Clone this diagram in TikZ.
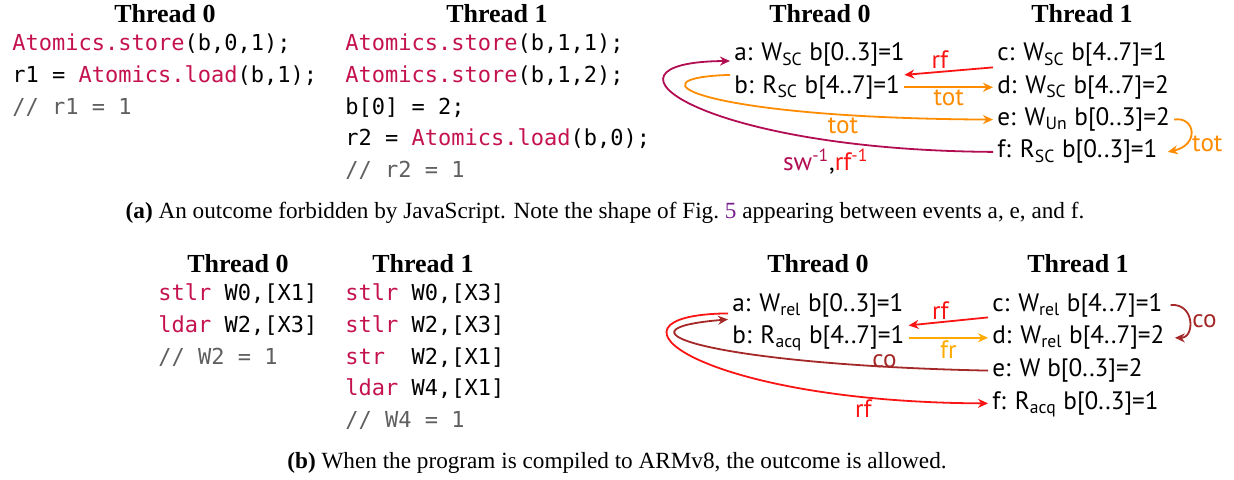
\documentclass[tikz,border=0pt]{standalone}
\usepackage{fontspec}
\setmainfont{Liberation Serif}
\newfontfamily\codefont{DejaVu Sans Mono}
\newfontfamily\evfont{PT Sans}
\usetikzlibrary{arrows.meta,arrows}
\usetikzlibrary{positioning}
\usetikzlibrary{calc}

\definecolor{kwred}{RGB}{196,18,80}
\definecolor{cmgray}{RGB}{95,95,95}
\definecolor{rfred}{RGB}{250,20,20}
\definecolor{swpurple}{RGB}{178,12,82}
\definecolor{totorange}{RGB}{255,140,0}
\definecolor{frorange}{RGB}{255,170,0}
\definecolor{cobrown}{RGB}{165,40,40}
\definecolor{figpurple}{RGB}{120,30,140}

\newcommand{\codekw}[1]{\textcolor{kwred}{#1}}
\newcommand{\codecm}[1]{\textcolor{cmgray}{#1}}
\newcommand{\evsub}[1]{\textsubscript{#1}}
\newcommand{\evsup}[1]{\textsuperscript{#1}}

\begin{document}
\begin{tikzpicture}[x=0.5pt,y=-0.5pt]
\tikzstyle{head node}=[font=\fontsize{13}{15}\selectfont\bfseries,inner sep=0]
\tikzstyle{code node}=[anchor=west,font=\fontsize{11}{13}\codefont,inner sep=0,text height=8pt,text depth=2.5pt]
\tikzstyle{ev node}=[anchor=west,font=\fontsize{12.6}{14}\evfont,inner xsep=2pt,inner ysep=0,text height=9pt,text depth=3pt]
\tikzstyle{lbl node}=[font=\fontsize{12.6}{14}\evfont,inner sep=1pt]
\tikzstyle{cap node}=[font=\fontsize{11.6}{13}\selectfont,inner sep=0]
\tikzset{
  rf edge/.style  = {draw=rfred,line width=0.9pt,-{Stealth[length=5pt,width=4.5pt]}},
  tot edge/.style = {draw=totorange,line width=0.9pt,-{Stealth[length=5pt,width=4.5pt]}},
  sw edge/.style  = {draw=swpurple,line width=0.9pt,-{Stealth[length=5pt,width=4.5pt]}},
  fr edge/.style  = {draw=frorange,line width=0.9pt,-{Stealth[length=5pt,width=4.5pt]}},
  co edge/.style  = {draw=cobrown,line width=0.9pt,-{Stealth[length=5pt,width=4.5pt]}}
}
\useasboundingbox (0,0) rectangle (1234,480);

%%%%%%%%%%%%%%%%%%%%%%%%%% (a) JavaScript
\node[head node] (jh0) at (165,14) {Thread 0};
\node[head node] (jh1) at (497,14) {Thread 1};
\node[code node] (j0l1) at (12,45) {\codekw{Atomics.store}(b,0,1);};
\node[code node, below=5pt of j0l1.south west, anchor=north west] (j0l2) {r1 = \codekw{Atomics.load}(b,1);};
\node[code node, below=5pt of j0l2.south west, anchor=north west] (j0l3) {\codecm{// r1 = 1}};
\node[code node] (j1l1) at (345,45) {\codekw{Atomics.store}(b,1,1);};
\node[code node, below=5pt of j1l1.south west, anchor=north west] (j1l2) {\codekw{Atomics.store}(b,1,2);};
\node[code node, below=5pt of j1l2.south west, anchor=north west] (j1l3) {b[0] = 2;};
\node[code node, below=5pt of j1l3.south west, anchor=north west] (j1l4) {r2 = \codekw{Atomics.load}(b,0);};
\node[code node, below=5pt of j1l4.south west, anchor=north west] (j1l5) {\codecm{// r2 = 1}};

\node[head node] (th0) at (820,14) {Thread 0};
\node[head node] (th1) at (1082,14) {Thread 1};
\node[ev node] (ta) at (730,55) {a: W\evsub{SC} b[0..3]=1};
\node[ev node, below=3.75pt of ta.south west, anchor=north west] (tb) {b: R\evsub{SC} b[4..7]=1};
\node[ev node] (tc) at (993,55) {c: W\evsub{SC} b[4..7]=1};
\node[ev node, below=3.75pt of tc.south west, anchor=north west] (td) {d: W\evsub{SC} b[4..7]=2};
\node[ev node, below=3.75pt of td.south west, anchor=north west] (te) {e: W\evsub{Un} b[0..3]=2};
\node[ev node, below=3.75pt of te.south west, anchor=north west] (tf) {f: R\evsub{SC} b[0..3]=1};

\path
  (tc.south west) edge[rf edge] node[lbl node, pos=0.6, above, text=rfred] {rf} (tb.north east)
  (tb.east) edge[tot edge] node[lbl node, below, text=totorange] {tot} (td.west);
\draw[tot edge] (tb.north west) .. controls (625,78) and (700,118) ..
  node[lbl node, pos=0.8, below, text=totorange] {tot} (te.west);
\draw[sw edge] (tf.west) .. controls (700,150) and (580,62) ..
  node[lbl node, pos=0.22, below=3pt] {\textcolor{swpurple}{sw\evsup{-1}},\textcolor{rfred}{rf\evsup{-1}}} ([yshift=-3pt]ta.west);
\draw[tot edge] (te.east) .. controls (1195,116) and (1200,145) ..
  node[lbl node, pos=0.75, right=2pt, text=totorange] {tot} ([xshift=3pt]tf.east);

\node[cap node] (capa) at (605,213) {\textbf{(a)} An outcome forbidden by JavaScript. Note the shape of Fig.~\textcolor{figpurple}{5} appearing between events a, e, and f.};

%%%%%%%%%%%%%%%%%%%%%%%%%% (b) ARMv8
\node[head node] (ah0) at (238,264) {Thread 0};
\node[head node] (ah1) at (423,264) {Thread 1};
\node[code node] (a0l1) at (158,295) {\codekw{stlr} W0,[X1]};
\node[code node, below=5pt of a0l1.south west, anchor=north west] (a0l2) {\codekw{ldar} W2,[X3]};
\node[code node, below=5pt of a0l2.south west, anchor=north west] (a0l3) {\codecm{// W2 = 1}};
\node[code node] (a1l1) at (345,295) {\codekw{stlr} W0,[X3]};
\node[code node, below=5pt of a1l1.south west, anchor=north west] (a1l2) {\codekw{stlr} W2,[X3]};
\node[code node, below=5pt of a1l2.south west, anchor=north west] (a1l3) {\codekw{str}\ \ W2,[X1]};
\node[code node, below=5pt of a1l3.south west, anchor=north west] (a1l4) {\codekw{ldar} W4,[X1]};
\node[code node, below=5pt of a1l4.south west, anchor=north west] (a1l5) {\codecm{// W4 = 1}};

\node[head node] (bh0) at (818,264) {Thread 0};
\node[head node] (bh1) at (1078,264) {Thread 1};
\node[ev node] (ba) at (728,305) {a: W\evsub{rel} b[0..3]=1};
\node[ev node, below=4pt of ba.south west, anchor=north west] (bb) {b: R\evsub{acq} b[4..7]=1};
\node[ev node] (bc) at (988,305) {c: W\evsub{rel} b[4..7]=1};
\node[ev node, below=4pt of bc.south west, anchor=north west] (bd) {d: W\evsub{rel} b[4..7]=2};
\node[ev node, below=4pt of bd.south west, anchor=north west] (be) {e: W b[0..3]=2};
\node[ev node, below=4pt of be.south west, anchor=north west] (bf) {f: R\evsub{acq} b[0..3]=1};

\path
  (bc.south west) edge[rf edge] node[lbl node, pos=0.6, above, text=rfred] {rf} (bb.north east)
  (bb.east) edge[fr edge] node[lbl node, below, text=frorange] {fr} (bd.west);
\draw[co edge] ([xshift=2pt]bc.east) .. controls (1195,303) and (1195,338) ..
  node[lbl node, pos=0.5, right=0pt, text=cobrown] {co} ([xshift=3pt]bd.east);
\draw[co edge] (be.west) .. controls (720,365) and (600,330) ..
  node[lbl node, pos=0.14, above=-2pt, text=cobrown] {co} ([yshift=-1pt]ba.south west);
\draw[rf edge] ([yshift=2pt]ba.south west) .. controls (585,315) and (700,402) ..
  node[lbl node, pos=0.84, below=0pt, text=rfred] {rf} (bf.west);

\node[cap node] (capb) at (617,463) {\textbf{(b)} When the program is compiled to ARMv8, the outcome is allowed.};
\end{tikzpicture}
\end{document}
